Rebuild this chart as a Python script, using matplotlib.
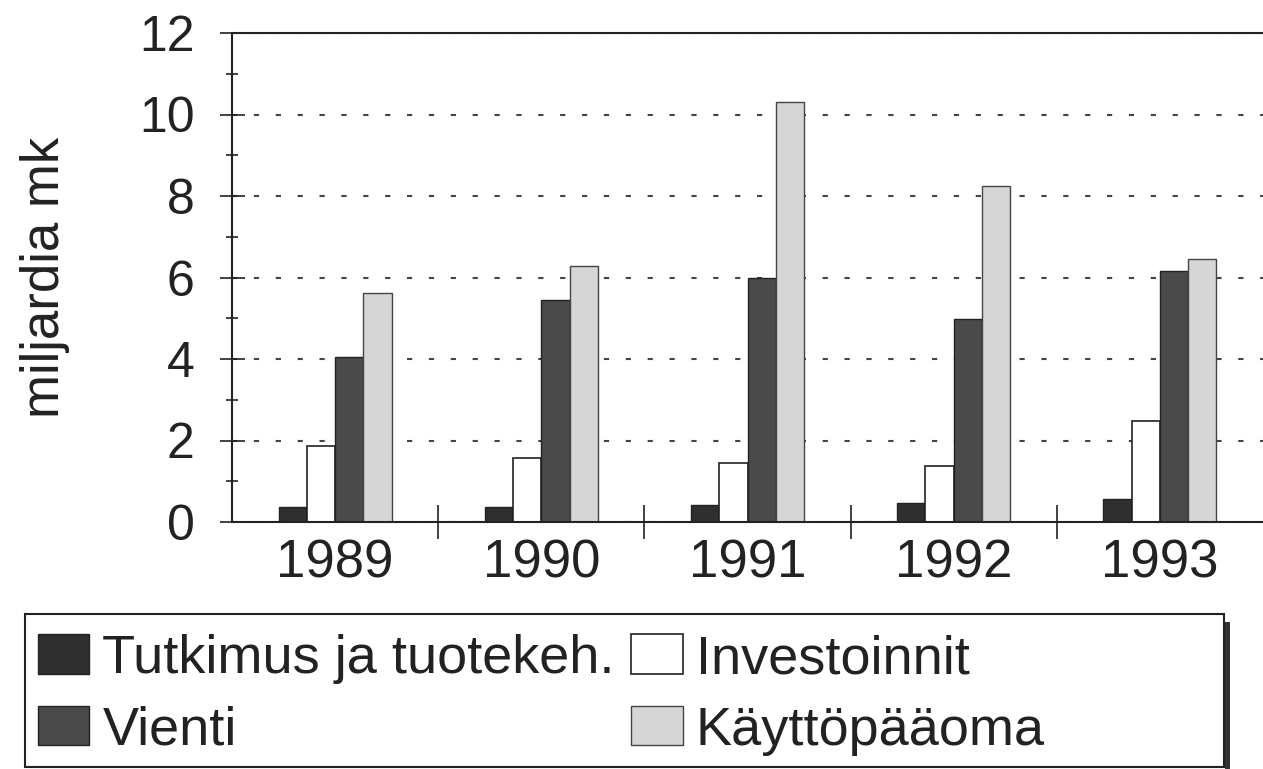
import numpy as np
import matplotlib
matplotlib.use("Agg")
import matplotlib.pyplot as plt
from matplotlib.patches import Rectangle

plt.rcParams['font.family'] = ['Liberation Sans', 'DejaVu Sans']

# data (miljardia mk)
vuodet = ["1989", "1990", "1991", "1992", "1993"]
tutkimus = [0.38, 0.38, 0.41, 0.47, 0.57]
investoinnit = [1.86, 1.57, 1.46, 1.37, 2.47]
vienti = [4.05, 5.46, 5.99, 4.99, 6.15]
kayttopaaoma = [5.63, 6.27, 10.3, 8.24, 6.45]

W, H = 1263, 769
fig = plt.figure(figsize=(W / 100, H / 100), dpi=100)
ax = fig.add_axes([232 / W, 247 / H, 1031 / W, 489 / H])

x = np.arange(len(vuodet))
w = 0.137
b1 = ax.bar(x - 1.5 * w, tutkimus, w, color="#2f2f2f", edgecolor="#222222", linewidth=1)
b2 = ax.bar(x - 0.5 * w, investoinnit, w, color="white", edgecolor="#222222", linewidth=1.2)
b3 = ax.bar(x + 0.5 * w, vienti, w, color="#4a4a4a", edgecolor="#222222", linewidth=1)
b4 = ax.bar(x + 1.5 * w, kayttopaaoma, w, color="#d6d6d6", edgecolor="#444444", linewidth=1)

ax.set_xlim(-0.5, len(vuodet) - 0.5)
ax.set_ylim(0, 12)

# y-akseli
ax.set_yticks(np.arange(0, 13, 2))
ax.set_yticks(np.arange(1, 12, 2), minor=True)
ax.tick_params(axis="y", which="major", direction="inout", length=18, width=1.2,
               labelsize=36, pad=18, colors="#222222")
ax.tick_params(axis="y", which="minor", direction="inout", length=9, width=1.2,
               colors="#222222")

# x-akseli: erottimet ryhmien välissä, vuodet keskellä
ax.set_xticks(np.arange(0.5, len(vuodet) - 0.5, 1))
ax.set_xticklabels([])
ax.set_xticks(x, minor=True)
ax.set_xticklabels(vuodet, minor=True)
ax.tick_params(axis="x", which="major", direction="inout", length=25, width=1.2,
               colors="#222222")
ax.tick_params(axis="x", which="minor", length=0, labelsize=38, pad=12, colors="#222222")

ax.yaxis.grid(True, which="major", linestyle=(0, (2.5, 8)), linewidth=1.5, color="#444444")
ax.set_axisbelow(True)

for s in ["left", "bottom", "top"]:
    ax.spines[s].set_linewidth(1.5)
    ax.spines[s].set_color("#222222")
ax.spines["right"].set_visible(False)

ax.set_ylabel("miljardia mk", fontsize=38, color="#222222")
ax.yaxis.set_label_coords(-0.157, 0.5)

# selite
fig.legend([b1, b3, b2, b4],
           ["Tutkimus ja tuotekeh.", "Vienti", "Investoinnit", "Käyttöpääoma"],
           ncol=2, loc="upper left", bbox_to_anchor=(38 / W, 1 - 634 / H),
           frameon=False, fontsize=39, handlelength=0.95, handleheight=0.74,
           handletextpad=0.24, columnspacing=0.3, labelspacing=0.4,
           borderpad=0, borderaxespad=0, labelcolor="#222222")
fig.patches.append(Rectangle((25 / W, 2 / H), 1199 / W, (767 - 614) / H,
                             transform=fig.transFigure, fill=False,
                             edgecolor="#222222", linewidth=1.5))
fig.patches.append(Rectangle((1225 / W, -0.01), 5 / W, 1 - 622 / H + 0.01,
                             transform=fig.transFigure, facecolor="#333333",
                             edgecolor="none"))

fig.savefig("out.png", dpi=100)
